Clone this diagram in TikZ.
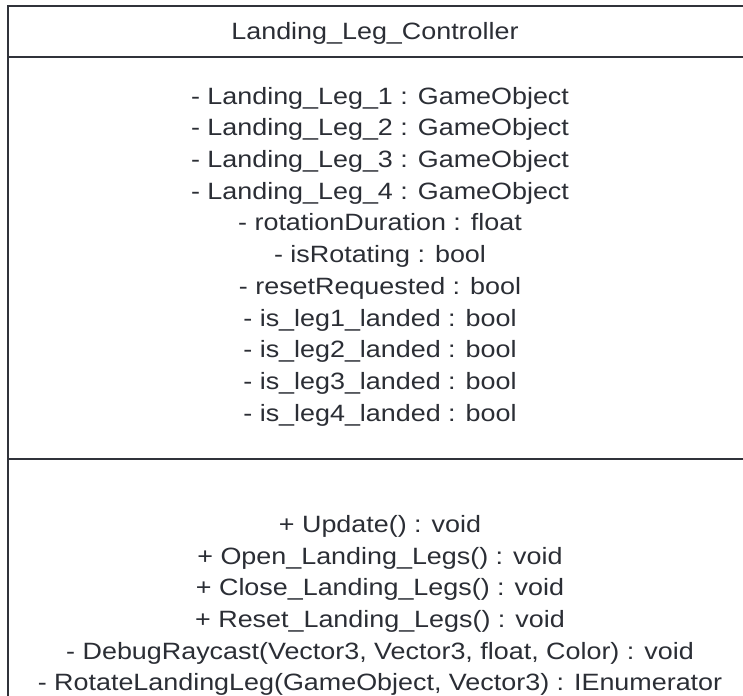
\documentclass[tikz,border=0pt]{standalone}
\usepackage{fontspec}
\setmainfont{Liberation Sans}[FakeStretch=1.14]
\definecolor{umlline}{HTML}{30333A}
\definecolor{umltext}{HTML}{2B2E35}
\begin{document}
\begin{tikzpicture}[x=1pt,y=-1pt,
  umltxt/.style={text=umltext,inner sep=0pt,align=center,font=\fontsize{23.6}{31.7}\selectfont},
  umlrule/.style={draw=umlline,line width=2.2pt}]
\useasboundingbox (0,0) rectangle (743,695);
\fill[white] (0,0) rectangle (743,695);
\draw[umlrule] (8,700) -- (8,6) -- (750,6);
\draw[umlrule] (8,57) -- (750,57);
\draw[umlrule] (8,459) -- (750,459);
\node[umltxt] (title) at (375,33) {Landing\_Leg\_Controller};
\node[umltxt] (attrs) at (380,256.5) {- Landing\_Leg\_1 : GameObject\\
- Landing\_Leg\_2 : GameObject\\
- Landing\_Leg\_3 : GameObject\\
- Landing\_Leg\_4 : GameObject\\
- rotationDuration : float\\
- isRotating : bool\\
- resetRequested : bool\\
- is\_leg1\_landed : bool\\
- is\_leg2\_landed : bool\\
- is\_leg3\_landed : bool\\
- is\_leg4\_landed : bool};
\node[umltxt] (methods) at (380,605.5) {+ Update() : void\\
+ Open\_Landing\_Legs() : void\\
+ Close\_Landing\_Legs() : void\\
+ Reset\_Landing\_Legs() : void\\
- DebugRaycast(Vector3, Vector3, float, Color) : void\\
- RotateLandingLeg(GameObject, Vector3) : IEnumerator};
\end{tikzpicture}
\end{document}
